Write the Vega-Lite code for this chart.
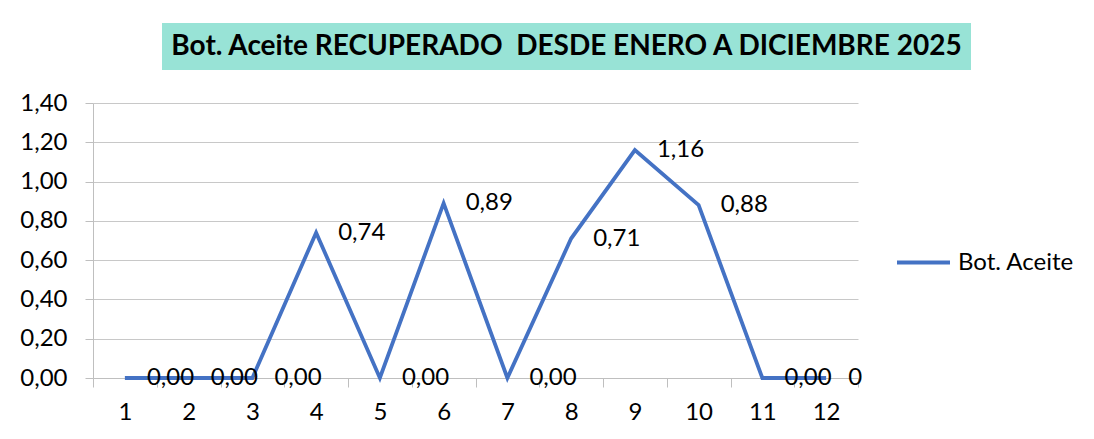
{
  "$schema": "https://vega.github.io/schema/vega-lite/v6.json",
  "background": "white",
  "padding": {"left": 19, "top": 23, "right": 5, "bottom": 5},
  "spacing": 21,
  "config": {"font": "Lato", "view": {"stroke": null}},
  "vconcat": [
    {
      "spacing": 0,
      "hconcat": [
        {
          "width": 69,
          "height": 47,
          "data": {"values": [{"t": ""}]},
          "mark": {"type": "text"},
          "encoding": {"text": {"field": "t"}}
        },
        {
          "width": 809,
          "height": 47,
          "view": {"fill": "#98E3D6", "stroke": null},
          "data": {"values": [{"title": "Bot. Aceite RECUPERADO\u00a0 DESDE ENERO A DICIEMBRE 2025"}]},
          "mark": {"type": "text", "font": "Lato", "fontWeight": "bold", "fontSize": 28, "color": "black", "baseline": "middle"},
          "encoding": {"text": {"field": "title"}}
        }
      ]
    },
    {
      "width": 765,
      "height": 275,
      "data": {"values": [
        {"mes": 1, "valor": 0, "label": "0,00", "serie": "Bot. Aceite"},
        {"mes": 2, "valor": 0, "label": "0,00", "serie": "Bot. Aceite"},
        {"mes": 3, "valor": 0, "label": "0,00", "serie": "Bot. Aceite"},
        {"mes": 4, "valor": 0.74, "label": "0,74", "serie": "Bot. Aceite"},
        {"mes": 5, "valor": 0, "label": "0,00", "serie": "Bot. Aceite"},
        {"mes": 6, "valor": 0.89, "label": "0,89", "serie": "Bot. Aceite"},
        {"mes": 7, "valor": 0, "label": "0,00", "serie": "Bot. Aceite"},
        {"mes": 8, "valor": 0.71, "label": "0,71", "serie": "Bot. Aceite"},
        {"mes": 9, "valor": 1.16, "label": "1,16", "serie": "Bot. Aceite"},
        {"mes": 10, "valor": 0.88, "label": "0,88", "serie": "Bot. Aceite"},
        {"mes": 11, "valor": 0, "label": "0,00", "serie": "Bot. Aceite"},
        {"mes": 12, "valor": 0, "label": "0", "serie": "Bot. Aceite"}
      ]},
      "encoding": {
        "x": {"field": "mes", "type": "ordinal", "scale": {"type": "band", "paddingInner": 0, "paddingOuter": 0},
          "axis": {"tickBand": "extent", "labelAngle": 0, "title": null, "grid": false, "tickSize": 9, "labelPadding": 13, "labelFontSize": 24, "labelFont": "Lato", "labelColor": "black", "domainColor": "#bfbfbf", "tickColor": "#bfbfbf"}},
        "y": {"field": "valor", "type": "quantitative", "scale": {"domain": [0, 1.4], "nice": false},
          "axis": {"values": [0, 0.2, 0.4, 0.6, 0.8, 1.0, 1.2, 1.4], "labelExpr": "replace(format(datum.value, '.2f'), '.', ',')", "title": null, "gridColor": "#c8c8c8", "tickColor": "#bfbfbf", "tickSize": 8, "domainColor": "#bfbfbf", "labelPadding": 18, "labelFontSize": 24, "labelFont": "Lato", "labelColor": "black"}}
      },
      "layer": [
        {
          "mark": {"type": "line", "strokeWidth": 3.8},
          "encoding": {
            "color": {"field": "serie", "type": "nominal", "scale": {"range": ["#4472C4"]},
              "legend": {"title": null, "orient": "none", "legendX": 802, "legendY": 211, "symbolType": "stroke", "symbolSize": 2809, "symbolStrokeWidth": 3.8, "labelFontSize": 24, "labelFont": "Lato", "labelColor": "black", "labelOffset": 6, "padding": 0}}
          }
        },
        {
          "mark": {"type": "text", "align": "left", "baseline": "middle", "dx": 22, "fontSize": 24, "font": "Lato", "color": "black"},
          "encoding": {"text": {"field": "label"}}
        }
      ]
    }
  ]
}
